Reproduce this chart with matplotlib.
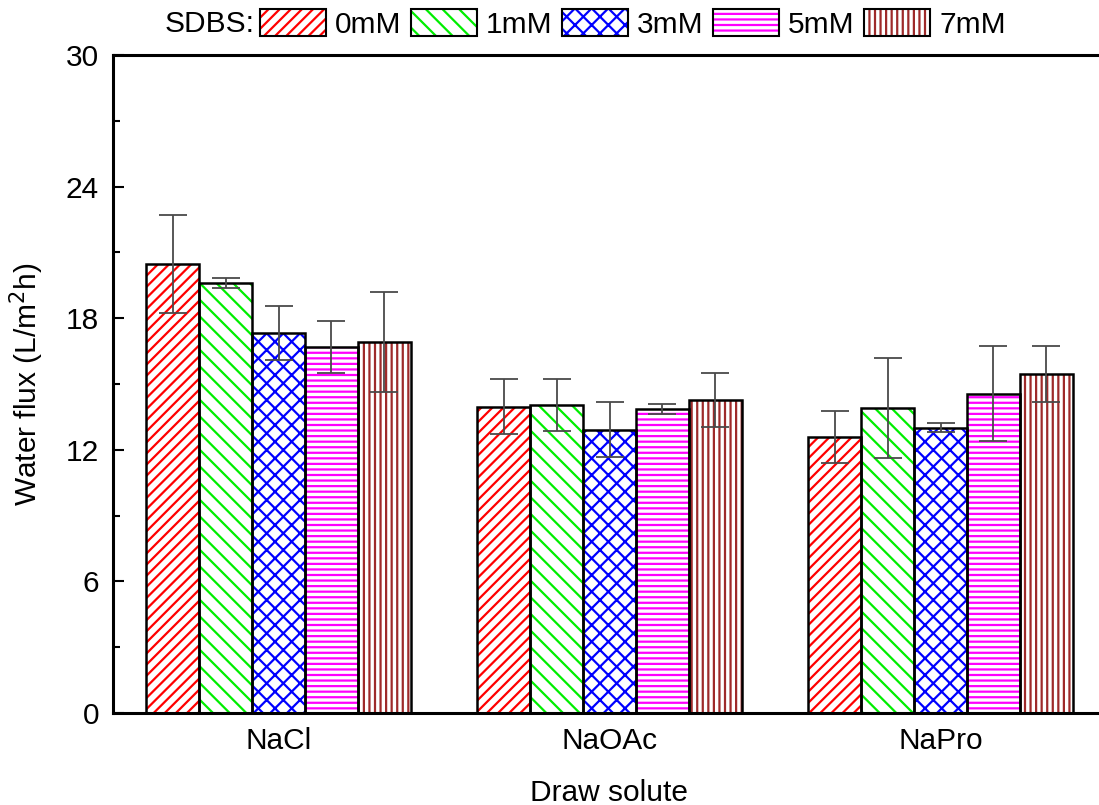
import numpy as np
import matplotlib
matplotlib.use("Agg")
import matplotlib.pyplot as plt
from matplotlib.patches import Patch
from matplotlib.legend_handler import HandlerTuple

plt.rcParams['font.family'] = ['Liberation Sans', 'DejaVu Sans']
plt.rcParams['font.size'] = 21.5
plt.rcParams['hatch.linewidth'] = 1.6

# Data
solutes = ['NaCl', 'NaOAc', 'NaPro']
conc_labels = ['0mM', '1mM', '3mM', '5mM', '7mM']
flux = {
    '0mM': [20.47, 13.97, 12.59],
    '1mM': [19.60, 14.04, 13.91],
    '3mM': [17.33, 12.92, 13.01],
    '5mM': [16.69, 13.85, 14.56],
    '7mM': [16.92, 14.26, 15.46],
}
flux_err = {
    '0mM': [2.25, 1.24, 1.20],
    '1mM': [0.23, 1.18, 2.27],
    '3mM': [1.23, 1.25, 0.22],
    '5mM': [1.19, 0.24, 2.18],
    '7mM': [2.28, 1.24, 1.27],
}

colors = ['#FF0000', '#00EE00', '#0000FF', '#FF00FF', '#9E2A2A']
hatches = ['///', '\\\\', 'xx', '---', '|||']

fig = plt.figure(figsize=(10.99, 8.05), dpi=100)
ax = fig.add_axes([113 / 1099, 92 / 805, 993 / 1099, 658 / 805])

x = np.arange(1, len(solutes) + 1)
width = 0.16
handles = []
for i, c in enumerate(conc_labels):
    pos = x + (i - 2) * width
    # hatched fill in series colour, then black outline on top
    ax.bar(pos, flux[c], width, color='white', edgecolor=colors[i],
           hatch=hatches[i], linewidth=0, zorder=2)
    ax.bar(pos, flux[c], width, fill=False, edgecolor='black',
           linewidth=1.8, zorder=3)
    ax.errorbar(pos, flux[c], yerr=flux_err[c], fmt='none', ecolor='#4a4a4a',
                elinewidth=1.3, capsize=10, capthick=1.3, zorder=4)
    h1 = Patch(facecolor='white', edgecolor=colors[i], hatch=hatches[i], linewidth=0)
    h2 = Patch(fill=False, edgecolor='black', linewidth=1.5)
    handles.append((h1, h2))

ax.set_xlim(0.5, 3.5)
ax.set_ylim(0, 30)
ax.set_yticks([0, 6, 12, 18, 24, 30])
ax.set_yticks([3, 9, 15, 21, 27], minor=True)
ax.set_xticks(x)
ax.set_xticklabels(solutes)
ax.tick_params(axis='y', which='major', direction='in', length=8, width=1.5, pad=10)
ax.tick_params(axis='y', which='minor', direction='in', length=5, width=1.5)
ax.tick_params(axis='x', length=0, pad=10)

for side in ['left', 'bottom', 'top']:
    ax.spines[side].set_linewidth(2.2)
ax.spines['right'].set_visible(False)

ax.set_xlabel('Draw solute', labelpad=17)
ax.set_ylabel('Water flux (L/m$^2$h)', labelpad=14)

fig.text(165 / 1099, 1 - 24 / 805, 'SDBS:', ha='left', va='center')
fig.legend(handles, conc_labels, handler_map={tuple: HandlerTuple(ndivide=1, pad=0)},
           ncol=5, loc='center left', bbox_to_anchor=(260 / 1099, 1 - 24 / 805),
           frameon=False, handlelength=2.2, handleheight=1.0, handletextpad=0.3,
           columnspacing=0.33, borderpad=0, borderaxespad=0)

fig.savefig('out.png', dpi=100)
